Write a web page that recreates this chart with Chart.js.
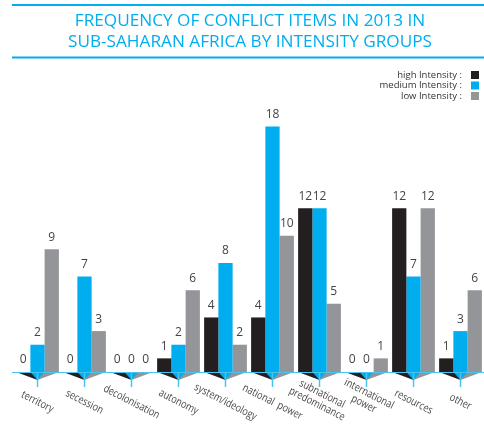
<!DOCTYPE html>
<html>
<head>
<meta charset="utf-8">
<title>Conflict items 2013</title>
<script src="https://cdn.jsdelivr.net/npm/chart.js"></script>
<style>
  html, body { margin: 0; padding: 0; background: #fff; }
  #wrap { width: 484px; height: 425px; position: relative; }
</style>
</head>
<body>
<div id="wrap"><canvas id="chart"></canvas></div>
<script>
// Data
const categories = ['territory', 'secession', 'decolonisation', 'autonomy', 'system/ideology',
  'national  power', ['subnational', 'predominance'], ['international', 'power'], 'resources', 'other'];
const highIntensity = [0, 0, 0, 1, 4, 4, 12, 0, 12, 1];
const mediumIntensity = [2, 7, 0, 2, 8, 18, 12, 0, 7, 3];
const lowIntensity = [9, 3, 0, 6, 2, 10, 5, 1, 12, 6];
const seriesNames = ['high Intensity :', 'medium Intensity :', 'low Intensity :'];
const titleLines = ['FREQUENCY OF CONFLICT ITEMS IN 2013 IN', 'SUB-SAHARAN AFRICA BY INTENSITY GROUPS'];

const BLACK = '#231f20';
const BLUE = '#00aeef';
const GREY = '#939598';
const LINE = '#4cc3ef';
const colors = [BLACK, BLUE, GREY];

// draws title, legend, value labels, the folded bar feet and the rotated category labels
const decor = {
  id: 'decor',
  afterDraw(chart) {
    const ctx = chart.ctx;
    const y = chart.scales.y;
    const base = y.getPixelForValue(0);
    ctx.save();

    // title and its rules
    ctx.strokeStyle = BLUE;
    ctx.lineWidth = 2;
    ctx.beginPath();
    ctx.moveTo(12, 5); ctx.lineTo(484, 5);
    ctx.moveTo(12, 57.5); ctx.lineTo(484, 57.5);
    ctx.stroke();
    ctx.fillStyle = BLUE;
    ctx.font = '17.2px "Open Sans"';
    ctx.textAlign = 'center';
    ctx.textBaseline = 'middle';
    ctx.fillText(titleLines[0], 250, 21);
    ctx.fillText(titleLines[1], 250, 42);

    // legend
    ctx.font = '9.5px "Open Sans"';
    ctx.textAlign = 'right';
    seriesNames.forEach((name, i) => {
      const ly = 75 + i * 10.5;
      ctx.fillStyle = '#333';
      ctx.fillText(name, 462, ly);
      ctx.fillStyle = colors[i];
      ctx.fillRect(471, ly - 4, 8, 8);
    });

    const metas = [0, 1, 2].map(i => chart.getDatasetMeta(i));

    // feet under the baseline
    categories.forEach((cat, i) => {
      const b0 = metas[0].data[i], b1 = metas[1].data[i], b2 = metas[2].data[i];
      const c = b1.x;
      const left = b0.x - b0.width / 2;
      const bL = b1.x - b1.width / 2, bR = b1.x + b1.width / 2;
      const right = b2.x + b2.width / 2;
      const d = 8;
      ctx.fillStyle = BLACK;
      ctx.beginPath();
      ctx.moveTo(left, base); ctx.lineTo(c, base); ctx.lineTo(c, base + d); ctx.closePath();
      ctx.fill();
      ctx.fillStyle = GREY;
      ctx.beginPath();
      ctx.moveTo(c, base); ctx.lineTo(right, base); ctx.lineTo(c, base + d); ctx.closePath();
      ctx.fill();
      ctx.fillStyle = BLUE;
      ctx.beginPath();
      ctx.moveTo(bL, base); ctx.lineTo(bR, base); ctx.lineTo(c, base + d); ctx.closePath();
      ctx.fill();
      ctx.strokeStyle = LINE;
      ctx.lineWidth = 1.5;
      ctx.beginPath();
      ctx.moveTo(c, base); ctx.lineTo(c, base + 15);
      ctx.stroke();
    });

    // baseline
    ctx.strokeStyle = LINE;
    ctx.lineWidth = 1;
    ctx.beginPath();
    ctx.moveTo(12, base + 0.5); ctx.lineTo(484, base + 0.5);
    ctx.stroke();

    // value labels
    ctx.font = '12px "Open Sans"';
    ctx.textAlign = 'center';
    ctx.fillStyle = '#444';
    metas.forEach((meta, s) => {
      const values = chart.data.datasets[s].data;
      meta.data.forEach((bar, i) => {
        ctx.fillText(String(values[i]), bar.x, bar.y - 12);
      });
    });

    // category labels, rotated and a bit narrowed
    ctx.font = '11px "Open Sans"';
    ctx.fillStyle = '#4a4a4a';
    categories.forEach((cat, i) => {
      const c = metas[1].data[i].x;
      const lines = Array.isArray(cat) ? cat : [cat];
      ctx.save();
      ctx.translate(c, Array.isArray(cat) ? 399 : 402);
      ctx.rotate(27 * Math.PI / 180);
      ctx.scale(0.82, 1);
      lines.forEach((ln, k) => {
        ctx.fillText(ln, 0, (k - (lines.length - 1) / 2) * 11.5);
      });
      ctx.restore();
    });

    ctx.restore();
  }
};

new Chart(document.getElementById('chart'), {
  type: 'bar',
  data: {
    labels: categories,
    datasets: [
      { label: seriesNames[0], data: highIntensity, backgroundColor: BLACK },
      { label: seriesNames[1], data: mediumIntensity, backgroundColor: BLUE },
      { label: seriesNames[2], data: lowIntensity, backgroundColor: GREY }
    ]
  },
  options: {
    responsive: true,
    maintainAspectRatio: false,
    animation: false,
    layout: { padding: { left: 14, right: -3, top: 72, bottom: 53 } },
    plugins: { legend: { display: false }, title: { display: false }, tooltip: { enabled: false } },
    datasets: { bar: { categoryPercentage: 0.91, barPercentage: 1, borderWidth: 0 } },
    scales: {
      x: { display: false },
      y: { display: false, min: 0, max: 22 }
    }
  },
  plugins: [decor]
});
</script>
</body>
</html>
